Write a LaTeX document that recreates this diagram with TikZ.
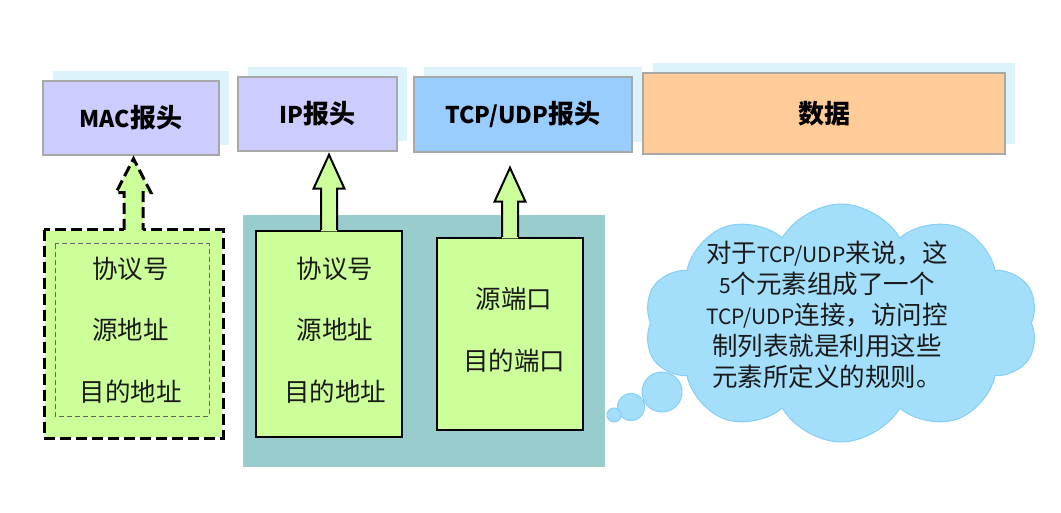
\documentclass[tikz,border=0pt]{standalone}
\usepackage{fontspec}
\setmainfont{Noto Sans CJK SC}
\usetikzlibrary{shapes.symbols,shadows,calc}

\definecolor{hdrfill}{HTML}{CCCCFF}
\definecolor{hdrline}{HTML}{A8A8A8}
\definecolor{hdrshadow}{HTML}{DDF3FC}
\definecolor{tcpfill}{HTML}{99CCFF}
\definecolor{datafill}{HTML}{FFCC99}
\definecolor{fieldfill}{HTML}{CCFF99}
\definecolor{groupfill}{HTML}{99CCCC}
\definecolor{cloudfill}{HTML}{A3DEFB}
\definecolor{cloudline}{HTML}{86CEF4}
\definecolor{txt}{HTML}{1A1A1A}

% Latin runs are set a little smaller than the Chinese characters
\newcommand\hdrlatin[1]{{\fontsize{23}{23}\selectfont #1}}
\newcommand\notelatin[1]{{\fontsize{21}{31}\selectfont #1}}

% block arrow from a field box up towards a header box
% #1 outline style, #2 field node, #3 header node, #4 gap below header,
% #5 half width of head, #6 half width of shaft
\newcommand\liftarrow[6]{%
  \path let \p1=(#2.north), \p2=(#3.south) in
    [fill=fieldfill] (\x1-#6,\y1-1.3pt) -- (\x1-#6,\y2-#4-34pt) -- (\x1-#5,\y2-#4-34pt)
      -- (\x1,\y2-#4) -- (\x1+#5,\y2-#4-34pt) -- (\x1+#6,\y2-#4-34pt)
      -- (\x1+#6,\y1-1.3pt) -- cycle;
  \draw[#1] let \p1=(#2.north), \p2=(#3.south) in
    (\x1-#6,\y1) -- (\x1-#6,\y2-#4-34pt) -- (\x1-#5,\y2-#4-34pt)
      -- (\x1,\y2-#4) -- (\x1+#5,\y2-#4-34pt) -- (\x1+#6,\y2-#4-34pt)
      -- (\x1+#6,\y1);
}

\begin{document}
\begin{tikzpicture}[x=1pt,y=-1pt,
  hdr/.style={draw=hdrline, line width=1.5pt, fill=hdrfill, text=black,
    font=\fontsize{26}{26}\selectfont\bfseries, inner sep=0pt,
    drop shadow={shadow xshift=9.5pt, shadow yshift=9.5pt, fill=hdrshadow, opacity=1}},
  field/.style={fill=fieldfill, draw=black, line width=2pt, inner sep=0pt},
  fieldtext/.style={text=txt, font=\fontsize{25.5}{61.5}\selectfont, align=center, inner sep=0pt},
  solidarrow/.style={draw=black, line width=2pt, line join=miter},
  dasharrow/.style={draw=black, line width=3pt, dash pattern=on 11pt off 5pt},
  bubble/.style={circle, fill=cloudfill, draw=cloudline, line width=1pt, inner sep=0pt},
]
\useasboundingbox[fill=white] (0,0) rectangle (1061,513);

% protocol headers
\node[hdr, minimum width=176pt, minimum height=74pt] (mac) at (131,118) {\hdrlatin{MAC}报头};
\node[hdr, minimum width=159pt, minimum height=74pt] (ip) at (317.5,114) {\hdrlatin{IP}报头};
\node[hdr, fill=tcpfill, minimum width=218pt, minimum height=75pt] (tcp) at (523,114.5) {\hdrlatin{TCP/UDP}报头};
\node[hdr, fill=datafill, minimum width=362pt, minimum height=81pt] (data) at (824,113.5) {数据};

% group of fields matched by the access list
\node[fill=groupfill, minimum width=362pt, minimum height=252pt, inner sep=0pt] (grp) at (424,341) {};

% layer 2 fields (dashed)
\node[field, draw=none, minimum width=177pt, minimum height=206pt] (l2) at (133.5,334) {};
\draw[dasharrow] (l2.north west) rectangle (l2.south east);
\draw[black!60, line width=1pt, dash pattern=on 5pt off 3pt]
  ($(l2.north west)+(11,14)$) rectangle ($(l2.south east)+(-14,-22)$);
\node[fieldtext] (l2text) at ($(l2)+(-3,-4)$) {协议号\\源地址\\目的地址};

% layer 3 and 4 fields
\node[field, minimum width=146pt, minimum height=206pt] (l3) at (329,334) {};
\node[fieldtext] (l3text) at ($(l3)+(6,-4)$) {协议号\\源地址\\目的地址};
\node[field, minimum width=146pt, minimum height=192pt] (l4) at (510,334) {};
\node[fieldtext] (l4text) at ($(l4)+(4,-4)$) {源端口\\目的端口};

% arrows up to the headers
\liftarrow{dasharrow}{l2}{mac}{3pt}{17.5pt}{9.5pt}
\liftarrow{solidarrow}{l3}{ip}{3pt}{15.5pt}{8pt}
\liftarrow{solidarrow}{l4}{tcp}{15pt}{15.5pt}{8pt}

% thought cloud
\node[cloud, cloud puffs=10, cloud puff arc=120, cloud ignores aspect,
  fill=cloudfill, draw=cloudline, line width=1pt,
  minimum width=394pt, minimum height=238pt, inner sep=0pt] (note) at (841,323) {};
\node[text=txt, align=center, font=\fontsize{25.5}{31}\selectfont] (notetext) at (827,315)
  {对于\notelatin{TCP/UDP}来说，这\\\notelatin{5}个元素组成了一个\\\notelatin{TCP/UDP}连接，访问控\\制列表就是利用这些\\元素所定义的规则。};
\node[bubble, minimum size=40pt] (b3) at (662,392) {};
\node[bubble, minimum size=27pt] (b2) at (631,407) {};
\node[bubble, minimum size=14pt] (b1) at (614,415) {};
\end{tikzpicture}
\end{document}
